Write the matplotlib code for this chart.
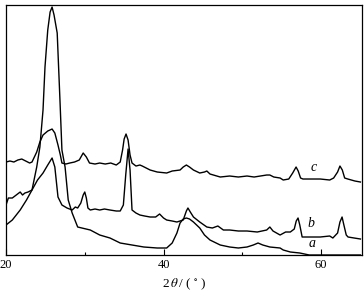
import matplotlib
matplotlib.use("Agg")
from matplotlib import pyplot as plt
from matplotlib.ticker import MultipleLocator

plt.rcParams['font.family'] = ['Liberation Serif', 'DejaVu Serif']
plt.rcParams['mathtext.fontset'] = 'stix'

# curve a (smooth, tall sharp peak near 26)
tt_a = [20.0, 20.8, 21.8, 22.6, 23.3, 23.9, 24.3, 24.7, 24.95, 25.3, 25.6, 25.85,
        26.1, 26.5, 26.85, 27.1, 27.5, 27.9, 28.4, 29.1, 30.7, 31.9, 33.2, 34.5,
        36.0, 37.5, 39.2, 40.4, 41.1, 41.7, 42.1, 42.5, 42.9, 43.3, 43.8, 44.6,
        45.2, 45.9, 47.2, 48.4, 49.5, 50.6, 51.4, 52.0, 52.6, 53.5, 54.8, 55.2,
        56.1, 57.3, 58.5, 60.0, 65.0]
int_a = [30, 35, 45, 55, 65, 88, 108, 145, 188, 225, 243, 248,
         240, 222, 155, 105, 88, 55, 42, 28, 25, 20, 17, 12,
         10, 8, 7, 7, 12, 22, 32, 36, 37, 36, 33, 27,
         20, 15, 10, 8, 7, 8, 10, 12, 10, 8, 7, 5,
         3, 2, 0, 0, 0]

# curve b
tt_b = [20.0, 20.3, 20.8, 21.3, 21.8, 22.1, 22.4, 22.8, 23.3, 24.0, 24.7, 25.3,
        25.85, 26.2, 26.6, 27.1, 27.75, 28.4, 28.8, 29.1, 29.5, 29.8, 30.0, 30.2,
        30.4, 30.7, 31.3, 31.9, 32.5, 33.2, 34.0, 34.5, 34.9, 35.2, 35.5, 35.75,
        36.0, 36.5, 37.0, 37.6, 38.3, 39.0, 39.5, 40.0, 40.4, 41.1, 41.7, 42.5,
        42.9, 43.1, 43.4, 43.8, 44.6, 45.5, 46.2, 46.9, 47.6, 48.4, 49.5, 50.6,
        51.9, 52.5, 53.1, 53.5, 53.9, 54.8, 55.5, 56.1, 56.6, 56.85, 57.08, 57.3,
        57.6, 58.5, 59.9, 61.1, 61.5, 62.1, 62.4, 62.67, 62.9, 63.2, 63.43, 64.2,
        65.0]
int_b = [50, 57, 57, 60, 63, 60, 62, 63, 65, 75, 82, 90,
         97, 88, 58, 50, 47, 45, 48, 47, 52, 60, 63, 57,
         47, 45, 46, 45, 46, 45, 44, 44, 50, 80, 106, 85,
         45, 42, 40, 39, 38, 38, 41, 37, 35, 34, 33, 35,
         44, 47, 43, 38, 33, 28, 27, 29, 25, 25, 24, 24,
         23, 24, 25, 28, 24, 20, 23, 23, 26, 34, 37, 30,
         18, 18, 18, 19, 17, 22, 33, 38, 30, 20, 18, 17,
         16]

# curve c
tt_c = [20.0, 20.5, 21.0, 21.5, 22.0, 22.5, 23.0, 23.3, 23.9, 24.3, 24.7, 25.3,
        25.85, 26.2, 26.6, 26.9, 27.1, 27.6, 28.1, 28.7, 29.3, 29.8, 30.2, 30.6,
        31.3, 31.9, 32.6, 33.3, 34.0, 34.5, 34.8, 35.0, 35.24, 35.5, 35.75, 36.0,
        36.5, 37.0, 37.3, 38.3, 39.2, 40.4, 41.1, 42.1, 42.5, 42.9, 43.3, 43.8,
        44.6, 45.2, 45.5, 45.9, 47.2, 48.4, 49.5, 50.6, 51.5, 52.3, 53.1, 53.5,
        54.0, 54.8, 55.2, 55.9, 56.4, 56.83, 57.1, 57.4, 57.7, 59.0, 59.9, 61.1,
        61.6, 62.1, 62.4, 62.7, 63.0, 63.4, 64.3, 65.0]
int_c = [93, 94, 93, 95, 96, 94, 92, 93, 103, 113, 120, 124,
         126, 122, 110, 100, 92, 91, 92, 93, 95, 102, 98, 92,
         91, 92, 91, 92, 90, 93, 105, 116, 121, 115, 100, 92,
         89, 90, 89, 85, 83, 82, 84, 85, 88, 90, 88, 85,
         82, 83, 84, 81, 78, 79, 78, 79, 78, 79, 80, 80,
         78, 77, 75, 76, 82, 88, 84, 77, 76, 76, 76, 75,
         77, 83, 89, 85, 77, 76, 74, 73]

fig = plt.figure(figsize=(3.64, 2.96), dpi=100)
ax = fig.add_axes([0.0165, 0.1385, 0.978, 0.8445])

for tt, inten in [(tt_a, int_a), (tt_b, int_b), (tt_c, int_c)]:
    ax.plot(tt, inten, color='black', lw=1.0)

ax.text(58.9, 12, 'a', fontstyle='italic', fontsize=10, ha='center', va='center')
ax.text(58.7, 32, 'b', fontstyle='italic', fontsize=10, ha='center', va='center')
ax.text(59.0, 88, 'c', fontstyle='italic', fontsize=10, ha='center', va='center')

ax.set_xlim(20, 65.2)
ax.set_ylim(0, 250)
ax.set_yticks([])
ax.xaxis.set_major_locator(MultipleLocator(20))
ax.xaxis.set_minor_locator(MultipleLocator(10))
ax.tick_params(axis='x', which='major', direction='in', length=4, width=0.8,
               labelsize=9, pad=3)
ax.tick_params(axis='x', which='minor', direction='in', length=2, width=0.8)
ax.set_xlabel(r'2$\,\theta\,$/ ( $^{\circ}$ )', fontsize=9.5, labelpad=4)
for sp in ax.spines.values():
    sp.set_linewidth(0.9)

fig.savefig('out.png', dpi=100)
